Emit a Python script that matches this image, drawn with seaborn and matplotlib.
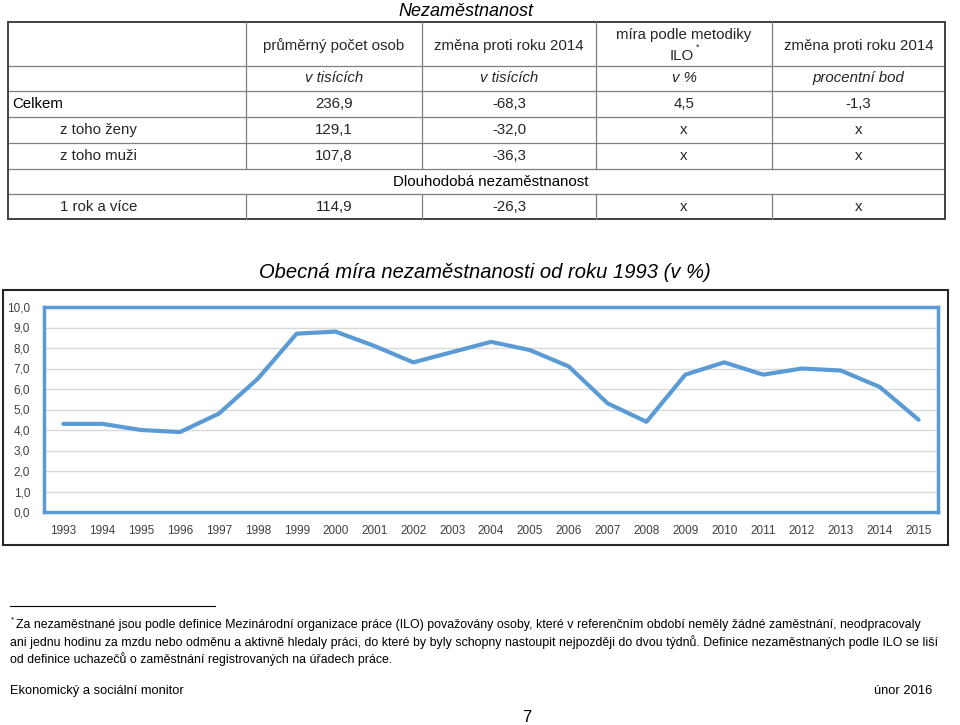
import matplotlib
matplotlib.use("Agg")
import matplotlib.pyplot as plt
from matplotlib.patches import Rectangle
import seaborn as sns
import pandas as pd

# --- data ---
years = [str(y) for y in range(1993, 2016)]
rates = [4.3, 4.3, 4.0, 3.9, 4.8, 6.5, 8.7, 8.8, 8.1, 7.3, 7.8, 8.3,
         7.9, 7.1, 5.3, 4.4, 6.7, 7.3, 6.7, 7.0, 6.9, 6.1, 4.5]
y_ticks = list(range(0, 11))

table_title = "Nezaměstnanost"
col_headers = ["průměrný počet osob", "změna proti roku 2014",
               "míra podle metodiky", "změna proti roku 2014"]
col_units = ["v tisících", "v tisících", "v %", "procentní bod"]
row_labels = ["Celkem", "z toho ženy", "z toho muži"]
row_values = [["236,9", "-68,3", "4,5", "-1,3"],
              ["129,1", "-32,0", "x", "x"],
              ["107,8", "-36,3", "x", "x"]]
long_label = "Dlouhodobá nezaměstnanost"
long_row_label = "1 rok a více"
long_row_values = ["114,9", "-26,3", "x", "x"]

chart_title = "Obecná míra nezaměstnanosti od roku 1993 (v %)"
footnote = [
    "Za nezaměstnané jsou podle definice Mezinárodní organizace práce (ILO) považovány osoby, které v referenčním období neměly žádné zaměstnání, neodpracovaly",
    "ani jednu hodinu za mzdu nebo odměnu a aktivně hledaly práci, do které by byly schopny nastoupit nejpozději do dvou týdnů. Definice nezaměstnaných podle ILO se liší",
    "od definice uchazečů o zaměstnání registrovaných na úřadech práce.",
]
footer_left = "Ekonomický a sociální monitor"
footer_right = "únor 2016"
page_no = "7"

sns.set_theme(style="white")
plt.rcParams["font.family"] = ["Liberation Sans", "DejaVu Sans"]

W, H = 960, 725
fig = plt.figure(figsize=(W / 100, H / 100), dpi=100)

# page-level axes in pixel units for table, frame and texts
bg = fig.add_axes([0, 0, 1, 1])
bg.set_xlim(0, W)
bg.set_ylim(H, 0)
bg.axis("off")

txt = "#262626"

# --- table ---
bg.text(466, 11, table_title, ha="center", va="center", fontsize=13,
        style="italic", color="black")

col_edges = [8, 246, 422, 596, 772, 945]
row_edges = [22, 66, 91, 117, 143, 169, 194, 219]
centers = [(col_edges[i] + col_edges[i + 1]) / 2 for i in range(1, 5)]
grid_c = "#7f7f7f"

for i, y in enumerate(row_edges):
    lw = 1.4 if i in (0, len(row_edges) - 1) else 0.9
    bg.plot([col_edges[0], col_edges[-1]], [y, y], color="#404040" if lw > 1 else grid_c, lw=lw)
for j, x in enumerate(col_edges):
    outer = j in (0, len(col_edges) - 1)
    if outer:
        bg.plot([x, x], [row_edges[0], row_edges[-1]], color="#404040", lw=1.4)
    else:
        bg.plot([x, x], [row_edges[0], row_edges[5]], color=grid_c, lw=0.9)
        bg.plot([x, x], [row_edges[6], row_edges[7]], color=grid_c, lw=0.9)

fs = 10.8
for k, (cx, head, unit) in enumerate(zip(centers, col_headers, col_units)):
    if k == 2:
        bg.text(cx, 35, head, ha="center", va="center", fontsize=fs, color=txt)
        bg.text(cx - 2, 56, "ILO", ha="center", va="center", fontsize=fs, color=txt)
        bg.text(cx + 12, 47, "*", ha="left", va="center", fontsize=6.5, color=txt)
    else:
        bg.text(cx, 46, head, ha="center", va="center", fontsize=fs, color=txt)
    bg.text(cx, 78, unit, ha="center", va="center", fontsize=fs, color=txt, style="italic")

for r, (lab, vals) in enumerate(zip(row_labels, row_values)):
    yc = (row_edges[2 + r] + row_edges[3 + r]) / 2
    if r == 0:
        bg.text(12, yc, lab, ha="left", va="center", fontsize=fs, color="black")
    else:
        bg.text(60, yc, lab, ha="left", va="center", fontsize=fs, color=txt)
    for cx, v in zip(centers, vals):
        bg.text(cx, yc, v, ha="center", va="center", fontsize=fs, color=txt)

bg.text(491, (row_edges[5] + row_edges[6]) / 2, long_label, ha="center",
        va="center", fontsize=fs, color="black")
yc = (row_edges[6] + row_edges[7]) / 2
bg.text(60, yc, long_row_label, ha="left", va="center", fontsize=fs, color=txt)
for cx, v in zip(centers, long_row_values):
    bg.text(cx, yc, v, ha="center", va="center", fontsize=fs, color=txt)

# --- chart ---
bg.text(485, 272, chart_title, ha="center", va="center", fontsize=14.5,
        style="italic", color="black")
bg.add_patch(Rectangle((3, 290), 945, 255, fill=False, edgecolor="#262626", lw=1.5))

left, right, top, bottom = 44, 938, 307, 512
ax = fig.add_axes([left / W, 1 - bottom / H, (right - left) / W, (bottom - top) / H])
df = pd.DataFrame({"rok": years, "mira": rates})
blue = "#5b9bd5"
sns.lineplot(data=df, x="rok", y="mira", color=blue, lw=3, ax=ax)
ax.set_xlim(-0.5, len(years) - 0.5)
ax.set_ylim(0, 10)
ax.set_yticks(y_ticks)
ax.set_yticklabels([f"{v:.1f}".replace(".", ",") for v in y_ticks])
ax.set_xlabel("")
ax.set_ylabel("")
ax.grid(axis="y", color="#d9d9d9", lw=1)
ax.grid(axis="x", visible=False)
for s in ax.spines.values():
    s.set_visible(True)
    s.set_color(blue)
    s.set_linewidth(2.5)
ax.tick_params(axis="y", length=0, pad=10, labelsize=8.5, labelcolor="#404040")
ax.tick_params(axis="x", length=0, pad=9, labelsize=8.5, labelcolor="#404040")
ax.set_facecolor("white")

# --- footnote and footer ---
bg.plot([10, 215], [606, 606], color="black", lw=0.8)
bg.text(11, 620, "*", ha="left", va="center", fontsize=6, color="black")
for i, line in enumerate(footnote):
    x0 = 16 if i == 0 else 10
    bg.text(x0, 625 + 17 * i, line, ha="left", va="center", fontsize=8.95, color="black")
bg.text(10, 691, footer_left, ha="left", va="center", fontsize=9.3, color="black")
bg.text(932, 691, footer_right, ha="right", va="center", fontsize=9.3, color="black")
bg.text(527, 717, page_no, ha="center", va="center", fontsize=12, color="black")

fig.savefig("out.png", dpi=100)
